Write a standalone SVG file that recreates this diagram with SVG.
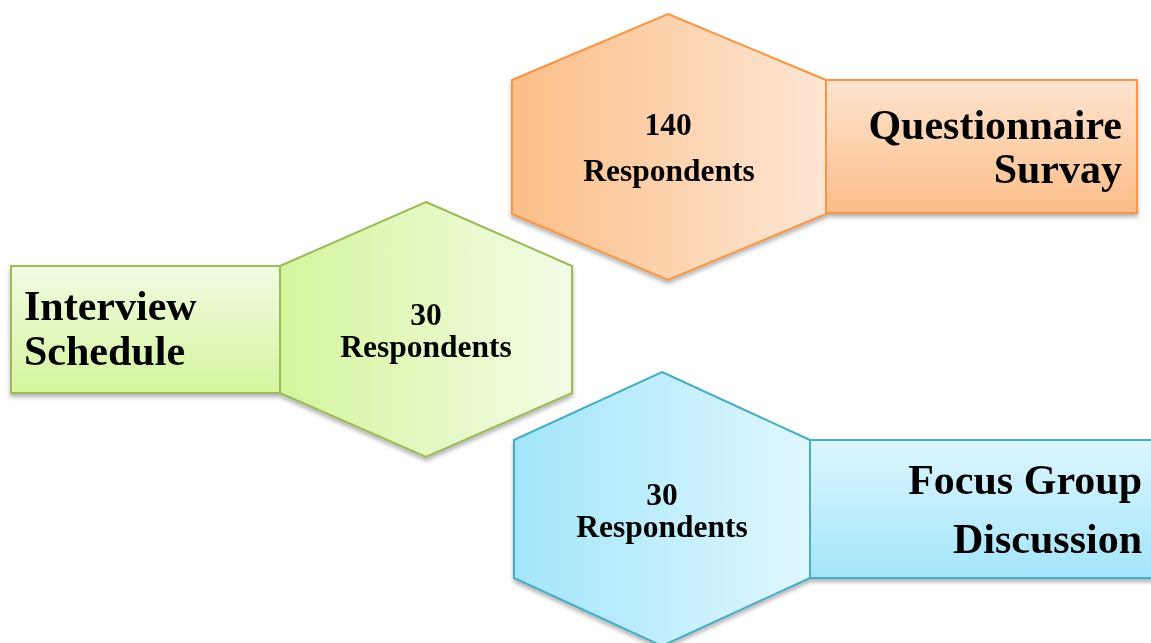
<svg xmlns="http://www.w3.org/2000/svg" width="1151" height="643" viewBox="0 0 1151 643">
<defs>
<linearGradient id="ohex" x1="0" y1="0" x2="1" y2="0"><stop offset="0" stop-color="#fbbe88"/><stop offset="1" stop-color="#fee6d4"/></linearGradient>
<linearGradient id="orect" x1="0" y1="0" x2="0" y2="1"><stop offset="0" stop-color="#fee4d0"/><stop offset="1" stop-color="#fbbd88"/></linearGradient>
<linearGradient id="ghex" x1="0" y1="0" x2="1" y2="0"><stop offset="0" stop-color="#d4f59d"/><stop offset="1" stop-color="#f3fce6"/></linearGradient>
<linearGradient id="grect" x1="0" y1="0" x2="0" y2="1"><stop offset="0" stop-color="#f1fbe3"/><stop offset="1" stop-color="#d5f59e"/></linearGradient>
<linearGradient id="bhex" x1="0" y1="0" x2="1" y2="0"><stop offset="0" stop-color="#a3e5fb"/><stop offset="1" stop-color="#e0f7fe"/></linearGradient>
<linearGradient id="brect" x1="0" y1="0" x2="0" y2="1"><stop offset="0" stop-color="#ddf6fe"/><stop offset="1" stop-color="#a4e5fb"/></linearGradient>
<filter id="sh" x="-10%" y="-10%" width="120%" height="125%"><feDropShadow dx="0" dy="3" stdDeviation="2" flood-color="#000" flood-opacity="0.3"/></filter>
</defs>
<style>
.o{stroke:#f79646;stroke-width:2}
.g{stroke:#9bbb59;stroke-width:2}
.b{stroke:#4bacc6;stroke-width:2}
.big{font-family:"Liberation Serif","Times New Roman",serif;font-weight:bold;font-size:42px;fill:#000}
.sm{font-family:"Liberation Serif","Times New Roman",serif;font-weight:bold;font-size:31.5px;fill:#000;text-anchor:middle}
</style>
<g id="connectors"></g>
<g id="questionnaire" filter="url(#sh)">
<polygon class="o" fill="url(#ohex)" points="668,14 826,80 826,214 668,280 512,214 512,80"/>
<rect class="o" fill="url(#orect)" x="826" y="80" width="311" height="133"/>
<text class="sm" x="668" y="135">140</text>
<text class="sm" x="669" y="181">Respondents</text>
<text class="big" x="1122" y="139" text-anchor="end">Questionnaire</text>
<text class="big" x="1122" y="183" text-anchor="end">Survay</text>
</g>
<g id="interview" filter="url(#sh)">
<rect class="g" fill="url(#grect)" x="11" y="266" width="269" height="127"/>
<polygon class="g" fill="url(#ghex)" points="426,202 572,266 572,393 426,457 280,393 280,266"/>
<text class="sm" x="426" y="325">30</text>
<text class="sm" x="426" y="357">Respondents</text>
<text class="big" x="24" y="320">Interview</text>
<text class="big" x="24" y="365">Schedule</text>
</g>
<g id="focus" filter="url(#sh)">
<polygon class="b" fill="url(#bhex)" points="662,372 810,440 810,578 662,646 514,578 514,440"/>
<rect class="b" fill="url(#brect)" x="810" y="440" width="345" height="138"/>
<text class="sm" x="662" y="505">30</text>
<text class="sm" x="662" y="537">Respondents</text>
<text class="big" x="1142" y="494" text-anchor="end">Focus Group</text>
<text class="big" x="1142" y="553" text-anchor="end">Discussion</text>
</g>
</svg>
